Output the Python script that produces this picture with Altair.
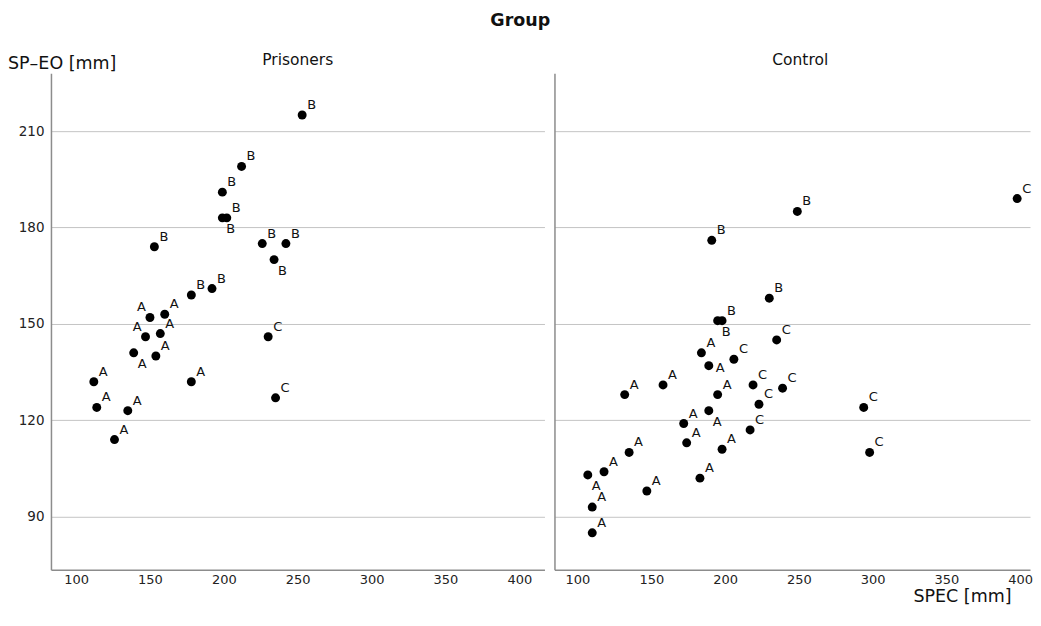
import altair as alt
import pandas as pd

# Prisoners panel
prisoners_spec = [253, 212, 199, 199, 202, 153, 226, 242, 234, 178, 192,
                  150, 160, 147, 157, 139, 154, 112, 114, 135, 126, 178,
                  230, 235]
prisoners_speo = [215, 199, 191, 183, 183, 174, 175, 175, 170, 159, 161,
                  152, 153, 146, 147, 141, 140, 132, 124, 123, 114, 132,
                  146, 127]
prisoners_cls = ["B"] * 11 + ["A"] * 11 + ["C"] * 2
prisoners_side = ["ur", "ur", "ur", "lr", "ur", "ur", "ur", "ur", "lr", "ur", "ur",
                  "ul", "ur", "ul", "ur", "lr", "ur", "ur", "ur", "ur", "ur", "ur",
                  "ur", "ur"]

# Control panel
control_spec = [132, 158, 184, 189, 195, 189, 172, 174, 198, 183, 147, 135, 118, 107, 110, 110,
                191, 249, 230, 195, 198,
                398, 235, 206, 219, 239, 223, 217, 294, 298]
control_speo = [128, 131, 141, 137, 128, 123, 119, 113, 111, 102, 98, 110, 104, 103, 93, 85,
                176, 185, 158, 151, 151,
                189, 145, 139, 131, 130, 125, 117, 124, 110]
control_cls = ["A"] * 16 + ["B"] * 5 + ["C"] * 9
control_side = ["ur", "ur", "ur", "r", "ur", "lr", "ur", "ur", "ur", "ur", "ur", "ur", "ur", "lr", "ur", "ur",
                "ur", "ur", "ur", "lr", "ur",
                "ur", "ur", "ur", "ur", "ur", "ur", "ur", "ur", "ur"]

x_ticks = [100, 150, 200, 250, 300, 350, 400]
y_ticks = [90, 120, 150, 180, 210]

df_p = pd.DataFrame({"SPEC": prisoners_spec, "SPEO": prisoners_speo,
                     "cls": prisoners_cls, "side": prisoners_side})
df_c = pd.DataFrame({"SPEC": control_spec, "SPEO": control_speo,
                     "cls": control_cls, "side": control_side})

FONT = "DejaVu Sans"
GRID = "#c4c4c4"
DOMAIN = "#8c8c8c"
TXT = "#111111"
H = 497


def panel(df, xdom, width, header, header_x, show_y, show_xtitle):
    x_axis = alt.Axis(values=x_ticks, grid=False, ticks=False, labelPadding=4,
                      labelFontSize=13, labelFont=FONT, labelColor="#222",
                      domainColor=DOMAIN, domainWidth=1.5,
                      title="SPEC [mm]" if show_xtitle else None,
                      titleFont=FONT, titleFontSize=17.5, titleFontWeight="normal",
                      titleColor=TXT, titleAlign="right", titleAnchor="start",
                      titleX=457, titleY=32, titleBaseline="alphabetic")
    if show_y:
        y_axis = alt.Axis(values=y_ticks, grid=True, gridColor=GRID, ticks=False,
                          labelPadding=7, labelFontSize=13.5, labelFont=FONT, labelColor="#222",
                          domainColor=DOMAIN, domainWidth=1.5, title=None)
    else:
        y_axis = alt.Axis(values=y_ticks, grid=True, gridColor=GRID, ticks=False,
                          labels=False, domainColor=DOMAIN, domainWidth=1.5, title=None)

    x = alt.X("SPEC:Q", scale=alt.Scale(domain=xdom, nice=False, zero=False), axis=x_axis)
    y = alt.Y("SPEO:Q", scale=alt.Scale(domain=[73.5, 228.0], nice=False, zero=False), axis=y_axis)

    base = alt.Chart(df)
    pts = base.mark_circle(size=80, color="black", opacity=1).encode(x=x, y=y)
    txt = dict(fontSize=13, font=FONT, color=TXT)
    lbl_ur = base.transform_filter(alt.datum.side == "ur").mark_text(
        align="left", baseline="alphabetic", dx=5, dy=-6, **txt).encode(x=x, y=y, text="cls:N")
    lbl_lr = base.transform_filter(alt.datum.side == "lr").mark_text(
        align="left", baseline="alphabetic", dx=4, dy=15, **txt).encode(x=x, y=y, text="cls:N")
    lbl_r = base.transform_filter(alt.datum.side == "r").mark_text(
        align="left", baseline="middle", dx=7, dy=2, **txt).encode(x=x, y=y, text="cls:N")
    lbl_ul = base.transform_filter(alt.datum.side == "ul").mark_text(
        align="right", baseline="alphabetic", dx=-4, dy=-6, **txt).encode(x=x, y=y, text="cls:N")

    head = alt.Chart(pd.DataFrame({"t": [header]})).mark_text(
        align="center", baseline="alphabetic", fontSize=15.5, font=FONT, color=TXT
    ).encode(text="t:N", x=alt.value(header_x), y=alt.value(-8))

    layers = [pts, lbl_ur, lbl_lr, lbl_r, lbl_ul, head]
    if show_y:
        ytitle = alt.Chart(pd.DataFrame({"t": ["SP\u2013EO [mm]"]})).mark_text(
            align="left", baseline="alphabetic", fontSize=17.5, font=FONT, color=TXT
        ).encode(text="t:N", x=alt.value(-43), y=alt.value(-4))
        layers.append(ytitle)
    return alt.layer(*layers).properties(width=width, height=H)


left = panel(df_p, [83, 417], 494, "Prisoners", 247, True, False)
right = panel(df_c, [84.4, 406.7], 476, "Control", 246, False, True)

chart = alt.hconcat(left, right, spacing=10).properties(
    title=alt.TitleParams("Group", fontSize=17.5, fontWeight="bold", font=FONT,
                          color=TXT, anchor="middle", offset=24),
    padding={"left": 0, "top": 3, "right": 0, "bottom": 0},
    background="white",
).configure_view(strokeWidth=0, stroke="transparent")

chart.save("out.html", embed_options={"renderer": "svg", "actions": False})
